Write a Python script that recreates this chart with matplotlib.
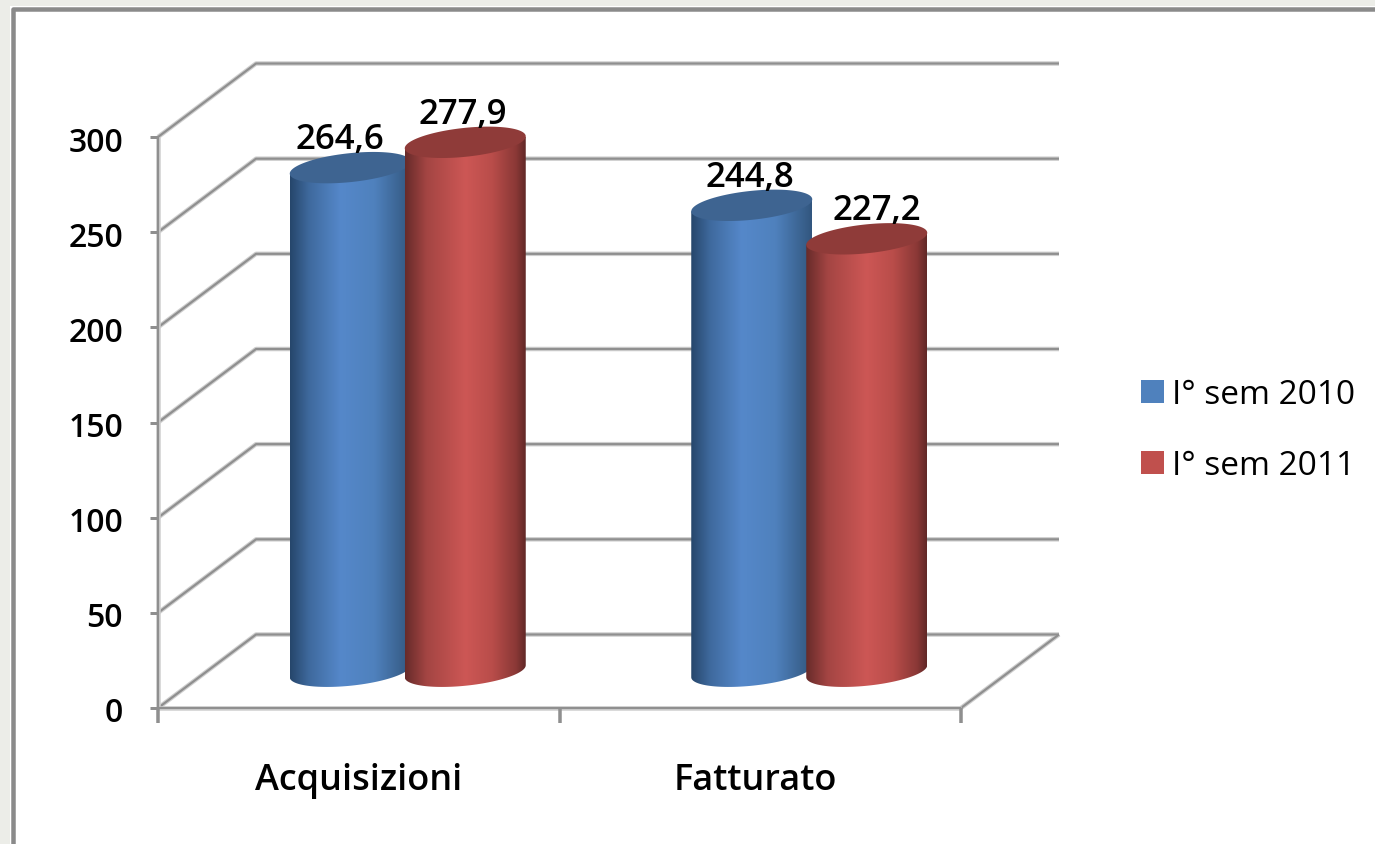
import numpy as np
import matplotlib
matplotlib.use("Agg")
import matplotlib.pyplot as plt
from matplotlib.patches import PathPatch, Patch, Rectangle
from matplotlib.path import Path
from matplotlib.colors import LinearSegmentedColormap
from matplotlib.transforms import ScaledTranslation

categories = ["Acquisizioni", "Fatturato"]
series_names = ["I° sem 2010", "I° sem 2011"]
values_2010 = [264.6, 244.8]
values_2011 = [277.9, 227.2]
value_labels_2010 = ["264,6", "244,8"]
value_labels_2011 = ["277,9", "227,2"]
y_ticks = [0, 50, 100, 150, 200, 250, 300]

W, H = 1375, 845
plt.rcParams["font.family"] = ["Open Sans", "DejaVu Sans"]
fig = plt.figure(figsize=(W / 100, H / 100), dpi=100, facecolor="white")
px = lambda v: v * 0.72

# outer window frame
for r in [(0, 0, 10 / W, 1), (0, 1 - 7 / H, 1, 7 / H)]:
    fig.add_artist(Rectangle(r[:2], r[2], r[3], transform=fig.transFigure, fc="#ecede8", ec="none"))
fig.add_artist(plt.Line2D([12.5 / W, 12.5 / W, 1], [0, 1 - 9.5 / H, 1 - 9.5 / H], transform=fig.transFigure,
                          color="#8a8a8a", lw=px(4.5)))

L, R, T, B = 158, 961, 138, 709
ax = fig.add_axes([L / W, 1 - B / H, (R - L) / W, (B - T) / H])
ax.set_xlim(0, 2)
ax.set_ylim(0, 300)
ax.patch.set_alpha(0)

ux = (R - L) / 2      # px per category
uy = (B - T) / 300    # px per value unit
depth_x, depth_y = 98 / ux, 73.5 / uy
GRID, HALO = "#8f8f8f", "#cfcfcf"


def line(xs, ys, z=1):
    ax.plot(xs, ys, color=HALO, lw=px(4.5), zorder=z, clip_on=False, solid_capstyle="butt")
    ax.plot(xs, ys, color=GRID, lw=px(2.2), zorder=z + .1, clip_on=False, solid_capstyle="butt")


for v in y_ticks:
    line([0, depth_x, 2 + depth_x], [v, v + depth_y, v + depth_y])
line([2, 2 + depth_x], [0, depth_y])
line([0, 2], [0, 0], 1.5)
line([0, 0], [0, 300], 1.5)

for s in ax.spines.values():
    s.set_visible(False)
ax.set_yticks(y_ticks)
ax.set_yticklabels([str(v) for v in y_ticks], fontsize=23, fontweight=600, color="black")
ax.set_xticks([0, 1, 2])
ax.set_xticklabels([])
ax.tick_params(axis="y", length=px(8), width=px(3), color=GRID, pad=px(27))
ax.tick_params(axis="x", length=px(15), width=px(3.5), color=GRID)
ax.set_xticks([0.5, 1.487], minor=True)
ax.set_xticklabels(categories, minor=True, fontsize=26, fontweight=600, color="black")
ax.tick_params(axis="x", which="minor", length=0, pad=px(54))
shift = ScaledTranslation(0, -1 / 100, fig.dpi_scale_trans)
for lab in ax.get_yticklabels():
    lab.set_transform(lab.get_transform() + shift)

blue_cmap = LinearSegmentedColormap.from_list("b", [(0, "#26466b"), (.16, "#3f6a9e"), (.42, "#5588ca"),
                                                     (.7, "#4f81bd"), (.92, "#3a628f"), (1, "#32567f")])
red_cmap = LinearSegmentedColormap.from_list("r", [(0, "#672b2a"), (.18, "#a44543"), (.5, "#cd5755"),
                                                    (.72, "#b94d4a"), (.92, "#8a3836"), (1, "#612827")])
HW, HH, TILT = 60.5 / ux, 14.5 / uy, 6 / uy
t = np.linspace(0, 2 * np.pi, 121)
gradient = np.linspace(0, 1, 256)[None, :]


def cylinder(cx, value, cmap, top_color, z):
    base = depth_y / 2
    top = base + value
    low = np.linspace(np.pi, 2 * np.pi, 60)
    xb = cx + HW * np.cos(low)
    yb = base + HH * np.sin(low) + TILT * np.cos(low)
    xs = np.r_[cx - HW, xb, cx + HW]
    ys = np.r_[top - TILT, yb, top + TILT]
    im = ax.imshow(gradient, cmap=cmap, aspect="auto", extent=(cx - HW, cx + HW, 0, 330), zorder=z, clip_on=True)
    im.set_clip_path(PathPatch(Path(np.c_[xs, ys]), transform=ax.transData))
    ell = np.c_[cx + HW * np.cos(t), top + HH * np.sin(t) + TILT * np.cos(t)]
    ax.add_patch(PathPatch(Path(ell), fc=top_color, ec="none", zorder=z + .1, clip_on=False))


offset = 57.5 / ux
# horizontal nudges of the value labels, in px
nudge_2010 = [-10, -2]
nudge_2011 = [-2, 10]
for i, (a, b) in enumerate(zip(values_2010, values_2011)):
    c = i + .5 + depth_x / 2
    cylinder(c - offset, a, blue_cmap, "#3e6491", 3 + i)
    cylinder(c + offset, b, red_cmap, "#8f3b39", 3.5 + i)
    ax.text(c - offset + nudge_2010[i] / ux, a + depth_y / 2 + HH - 3 / uy, value_labels_2010[i], ha="center",
            va="bottom", fontsize=25, fontweight=600, color="black", zorder=6)
    ax.text(c + offset + nudge_2011[i] / ux, b + depth_y / 2 + HH - 3 / uy, value_labels_2011[i], ha="center",
            va="bottom", fontsize=25, fontweight=600, color="black", zorder=6)

ax.set_xlim(0, 2)
ax.set_ylim(0, 300)

handles = [Patch(fc="#4f81bd", label=series_names[0]), Patch(fc="#c0504d", label=series_names[1])]
fig.legend(handles=handles, loc="center left", bbox_to_anchor=(1111 / W, 1 - 431 / H), frameon=False,
           handlelength=.68, handleheight=.68, handletextpad=.24, labelspacing=1.15, borderpad=0.4,
           prop={"size": 24, "weight": 500})

fig.savefig("out.png", dpi=100)
